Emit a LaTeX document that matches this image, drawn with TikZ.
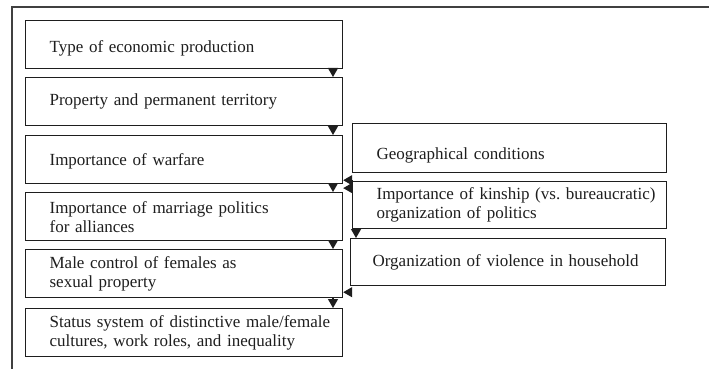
\documentclass[tikz,border=0pt]{standalone}
\usepackage{fontspec}
\setmainfont{Liberation Serif}
\usetikzlibrary{arrows.meta,calc}
\definecolor{ink}{HTML}{1E1E1E}
\frenchspacing
\tikzset{
  x=1pt, y=-1pt,
  box/.style={draw=ink, line width=1.2pt, rectangle, anchor=north west,
    inner xsep=24pt, inner ysep=0pt, align=left, text=ink,
    font=\fontsize{17}{19}\selectfont},
  lbox/.style={box, minimum width=317pt, text width=269pt, minimum height=48pt},
  rbox/.style={box, minimum width=314pt, text width=266pt, minimum height=48pt},
  conn/.style={draw=ink, line width=1.2pt, -{Triangle[width=10pt,length=9pt]}},
  frameline/.style={draw=ink!85, line width=1.1pt}
}
\begin{document}
\begin{tikzpicture}
\useasboundingbox (0,0) rectangle (709,369);
\draw[frameline] (12,369) -- (12,7) -- (709,7);

\node[lbox, text height=20pt, text depth=4pt] (b1) at (25,20) {Type of economic production};
\node[lbox] (b2) at (25,77) {Property and permanent territory};
\node[lbox, text height=16pt, text depth=4pt] (b3) at (25,135) {Importance of warfare};
\node[lbox] (b4) at (25,192) {\mbox{Importance of marriage politics}\\\mbox{for alliances}};
\node[lbox] (b5) at (25,249) {\mbox{Male control of females as}\\\mbox{sexual property}};
\node[lbox] (b6) at (25,308) {\mbox{Status system of distinctive male/female}\\\mbox{cultures, work roles, and inequality}};

\node[rbox, minimum height=49pt, text height=26pt, text depth=4pt] (geo) at (352,123) {Geographical conditions};
\node[rbox, minimum height=47pt] (kin) at (352,181) {\mbox{Importance of kinship (vs.\ bureaucratic)}\\\mbox{organization of politics}};
\node[rbox, minimum width=315pt, minimum height=47pt, inner xsep=22pt, text width=271pt] (vio) at (350,238) {Organization of violence in household};

\coordinate (gap) at ($(b3.south east)!.5!(b4.north east)$);

\draw[conn] ([xshift=308pt]b1.south west) -- ([xshift=308pt]b2.north west);
\draw[conn] ([xshift=308pt]b2.south west) -- ([xshift=308pt]b3.north west);
\draw[conn] ([xshift=308pt]b3.south west) -- ([xshift=308pt]b4.north west);
\draw[conn] ([xshift=308pt]b4.south west) -- ([xshift=308pt]b5.north west);
\draw[conn] ([xshift=308pt]b5.south west) -- ([xshift=308pt]b6.north west);

\draw[conn] ([yshift=-7pt]geo.south west) -- ([yshift=-7pt]geo.south west -| b3.east);
\draw[conn] (kin.west |- gap) -- (gap);
\draw[conn] ([xshift=4pt]kin.south west) -- ([xshift=4pt]kin.south west |- vio.north);
\draw[conn] ([yshift=-6pt]vio.south west) -- ([yshift=-6pt]vio.south west -| b5.east);
\end{tikzpicture}
\end{document}
